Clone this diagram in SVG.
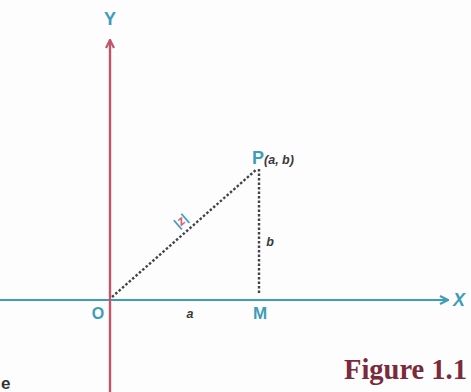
<svg xmlns="http://www.w3.org/2000/svg" width="471" height="392" viewBox="0 0 471 392">
<style>
.teal{fill:#3d9dba;font-family:"Liberation Sans",Arial,sans-serif;font-weight:bold}
.dk{fill:#3a3a3a;font-family:"Liberation Sans",Arial,sans-serif;font-style:italic;font-weight:bold}
.dot{stroke:#444;stroke-width:2.4;stroke-dasharray:2.5 2;fill:none}
</style>
<defs>
<marker id="ahr" viewBox="0 0 10 10" refX="9" refY="5" markerWidth="10" markerHeight="10" orient="auto" markerUnits="userSpaceOnUse">
<path d="M1,1 L9,5 L1,9" fill="none" stroke="#c45566" stroke-width="2.2"/>
</marker>
<marker id="aht" viewBox="0 0 10 10" refX="9" refY="5" markerWidth="10" markerHeight="10" orient="auto" markerUnits="userSpaceOnUse">
<path d="M1,1 L9,5 L1,9" fill="none" stroke="#3d9dba" stroke-width="2.2"/>
</marker>
</defs>
<rect width="471" height="392" fill="#fdfdfd"/>
<g id="connectors">
<line x1="0" y1="300" x2="448" y2="300" stroke="#3d9dba" stroke-width="2.2" marker-end="url(#aht)"/>
<line x1="110" y1="392" x2="110" y2="40" stroke="#c45566" stroke-width="2.4" marker-end="url(#ahr)"/>
<line class="dot" x1="112" y1="297" x2="257" y2="169"/>
<line class="dot" x1="259" y1="169" x2="259" y2="295"/>
</g>
<g id="axis-y"><text class="teal" x="110" y="25" font-size="18" text-anchor="middle">Y</text></g>
<g id="axis-x"><text class="teal" x="459" y="306" font-size="18" text-anchor="middle" font-style="italic">X</text></g>
<g id="O"><text class="teal" x="98" y="319" font-size="16" text-anchor="middle">O</text></g>
<g id="M"><text class="teal" x="260" y="319" font-size="17" text-anchor="middle">M</text></g>
<g id="P"><text x="252" y="164" font-size="18"><tspan class="teal">P</tspan><tspan class="dk" font-size="12.5">(a, b)</tspan></text></g>
<g id="label-a"><text class="dk" x="190" y="318" font-size="12.5" text-anchor="middle">a</text></g>
<g id="label-b"><text class="dk" x="270" y="246" font-size="12.5" text-anchor="middle">b</text></g>
<g id="label-z" transform="translate(181,221) rotate(-41)"><text x="0" y="4" font-size="13" text-anchor="middle" font-family="Liberation Sans,Arial,sans-serif" font-weight="bold"><tspan fill="#3d9dba">|</tspan><tspan fill="#d86080" font-style="italic">z</tspan><tspan fill="#3d9dba">|</tspan></text></g>
<g id="caption"><text x="344" y="379" font-size="29" font-weight="bold" textLength="123" lengthAdjust="spacingAndGlyphs" fill="#7a2a3a" font-family="Liberation Serif,Times New Roman,serif">Figure 1.1</text></g>
<g id="edge-e"><text x="1" y="389" font-size="17" fill="#333" font-weight="bold" font-family="Liberation Sans,Arial,sans-serif">e</text></g>
</svg>
